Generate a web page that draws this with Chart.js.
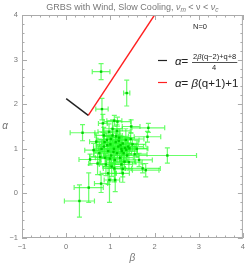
<!DOCTYPE html>
<html>
<head>
<meta charset="utf-8">
<script src="https://cdn.jsdelivr.net/npm/chart.js@4.4.1/dist/chart.umd.min.js"></script>
<style>
  html, body { margin: 0; padding: 0; background: #fff; }
</style>
</head>
<body>
<canvas id="chart" width="249" height="266"></canvas>
<script>
// data
const beta = [0.79, 1.37, 0.81, 1.09, 0.37, 2.29, 0.30, 0.51, 0.98, 1.11, 0.79, 1.28, 1.73, 1.80, 1.09, 1.16,
  1.47, 1.86, 1.84, 0.83, 0.68, 0.62, 0.54, 0.75, 0.71, 1.43, 1.28, 1.32, 0.85, 0.92, 0.95, 1.00,
  1.02, 1.05, 1.08, 1.10, 1.12, 1.15, 1.18, 1.20, 1.22, 1.25, 1.28, 1.30, 1.33, 1.35, 1.38, 1.40,
  1.50, 1.55, 1.60, 0.88, 0.90, 0.97, 1.03, 0.80, 0.85, 1.15, 1.25, 1.42, 0.95, 1.05, 1.65,
  0.93, 1.07, 1.19, 1.26, 0.99, 1.13, 0.87, 1.36, 1.01, 1.23, 0.77, 1.46];
const alpha = [2.73, 2.25, 1.89, 1.63, 1.36, 0.85, -0.17, 0.13, 0.30, 0.30, 0.22, 0.55, 0.56, 0.52, 0.56, 1.61,
  1.50, 1.47, 1.27, 1.57, 1.16, 0.97, 0.76, 0.90, 0.67, 1.01, 0.45, 0.71, 1.05, 1.20, 0.95, 1.10,
  0.85, 1.30, 1.00, 0.75, 1.15, 0.90, 1.05, 1.25, 0.80, 1.00, 1.12, 0.90, 1.02, 1.20, 0.85, 1.05,
  1.10, 0.88, 1.00, 0.80, 0.65, 1.38, 0.60, 1.00, 1.30, 1.40, 0.65, 0.70, 0.45, 1.45, 0.75,
  1.08, 0.93, 1.18, 0.95, 0.78, 1.28, 1.15, 0.98, 1.22, 1.08, 0.82, 1.22];
const betaErr = [0.20, 0.07, 0.14, 0.17, 0.28, 0.66, 0.34, 0.33, 0.12, 0.10, 0.15, 0.20, 0.40, 0.30, 0.25, 0.30,
  0.20, 0.37, 0.30, 0.10, 0.15, 0.20, 0.25, 0.12, 0.20, 0.40, 0.15, 0.25, 0.15, 0.20, 0.30, 0.25,
  0.18, 0.22, 0.35, 0.20, 0.28, 0.15, 0.40, 0.25, 0.30, 0.20, 0.35, 0.18, 0.25, 0.30, 0.22, 0.35,
  0.30, 0.28, 0.25, 0.22, 0.15, 0.25, 0.20, 0.18, 0.20, 0.30, 0.25, 0.30, 0.18, 0.22, 0.30,
  0.25, 0.30, 0.20, 0.35, 0.22, 0.28, 0.18, 0.25, 0.32, 0.20, 0.24, 0.30];
const alphaErr = [0.18, 0.29, 0.24, 0.12, 0.18, 0.17, 0.36, 0.33, 0.50, 0.26, 0.20, 0.18, 0.10, 0.15, 0.30, 0.10,
  0.15, 0.10, 0.12, 0.20, 0.20, 0.15, 0.12, 0.20, 0.25, 0.12, 0.20, 0.15, 0.25, 0.15, 0.20, 0.18,
  0.22, 0.15, 0.12, 0.30, 0.20, 0.25, 0.15, 0.20, 0.12, 0.28, 0.15, 0.20, 0.18, 0.25, 0.15, 0.20,
  0.15, 0.22, 0.18, 0.20, 0.25, 0.18, 0.22, 0.20, 0.18, 0.15, 0.20, 0.18, 0.25, 0.20, 0.15,
  0.20, 0.25, 0.15, 0.18, 0.22, 0.16, 0.20, 0.24, 0.15, 0.20, 0.18, 0.14];

// closure relations (q = 0.5)
const lineBlackBeta = [0, 0.5];
const lineBlackAlpha = [2.125, 1.75];
const lineRedBeta = [0.5, 2];
const lineRedAlpha = [1.75, 4];

const axisMin = -1;
const axisMax = 4;
const minorStep = 0.2;

const FONT = '"Liberation Sans", Arial, sans-serif';
const GREY = '#777';

// error bars, drawn under the markers
const errorBars = {
  id: 'errorBars',
  beforeDatasetsDraw(chart) {
    const { ctx, scales: { x, y } } = chart;
    ctx.save();
    ctx.strokeStyle = 'rgba(40,255,40,0.7)';
    ctx.lineWidth = 1.2;
    const cap = 2.5;
    beta.forEach((b, i) => {
      const a = alpha[i];
      const px = x.getPixelForValue(b), py = y.getPixelForValue(a);
      const x0 = x.getPixelForValue(b - betaErr[i]), x1 = x.getPixelForValue(b + betaErr[i]);
      const y0 = y.getPixelForValue(a - alphaErr[i]), y1 = y.getPixelForValue(a + alphaErr[i]);
      ctx.beginPath();
      ctx.moveTo(x0, py); ctx.lineTo(x1, py);
      ctx.moveTo(x0, py - cap); ctx.lineTo(x0, py + cap);
      ctx.moveTo(x1, py - cap); ctx.lineTo(x1, py + cap);
      ctx.moveTo(px, y0); ctx.lineTo(px, y1);
      ctx.moveTo(px - cap, y0); ctx.lineTo(px + cap, y0);
      ctx.moveTo(px - cap, y1); ctx.lineTo(px + cap, y1);
      ctx.stroke();
    });
    ctx.restore();
  }
};

// frame with inward major/minor ticks, title, axis labels and legend
const decorations = {
  id: 'decorations',
  afterDraw(chart) {
    const { ctx, chartArea: ca, scales: { x, y } } = chart;
    ctx.save();
    ctx.strokeStyle = '#aaa';
    ctx.lineWidth = 1;
    ctx.strokeRect(ca.left + 0.5, ca.top + 0.5, ca.right - ca.left - 1, ca.bottom - ca.top - 1);
    ctx.beginPath();
    for (let k = 0; k <= Math.round((axisMax - axisMin) / minorStep); k++) {
      const v = axisMin + k * minorStep;
      const major = Math.abs(v - Math.round(v)) < 1e-6;
      const len = major ? 5 : 2.5;
      const px = Math.round(x.getPixelForValue(v)) + 0.5;
      const py = Math.round(y.getPixelForValue(v)) + 0.5;
      ctx.moveTo(px, ca.bottom); ctx.lineTo(px, ca.bottom - len);
      ctx.moveTo(px, ca.top); ctx.lineTo(px, ca.top + len);
      ctx.moveTo(ca.left, py); ctx.lineTo(ca.left + len, py);
      ctx.moveTo(ca.right, py); ctx.lineTo(ca.right - len, py);
    }
    ctx.stroke();

    // title
    const parts = [
      ['GRBS with Wind, Slow Cooling, ', '9px ' + FONT, 0],
      ['\u03bd', 'italic 9px ' + FONT, 0],
      ['m', 'italic 6.5px ' + FONT, 2],
      [' < \u03bd < ', '9px ' + FONT, 0],
      ['\u03bd', 'italic 9px ' + FONT, 0],
      ['c', 'italic 6.5px ' + FONT, 2]
    ];
    let total = 0;
    parts.forEach(p => { ctx.font = p[1]; total += ctx.measureText(p[0]).width; });
    let tx = (ca.left + ca.right) / 2 - total / 2;
    ctx.fillStyle = GREY;
    ctx.textBaseline = 'alphabetic';
    ctx.textAlign = 'left';
    parts.forEach(p => {
      ctx.font = p[1];
      ctx.fillText(p[0], tx, 9.5 + p[2]);
      tx += ctx.measureText(p[0]).width;
    });

    // axis labels
    ctx.font = 'italic 10px ' + FONT;
    ctx.textAlign = 'center';
    ctx.textBaseline = 'middle';
    ctx.fillText('\u03b1', 5, (ca.top + ca.bottom) / 2);
    ctx.fillText('\u03b2', (ca.left + ca.right) / 2, 258);

    // legend
    ctx.fillStyle = '#222';
    ctx.font = '7.5px ' + FONT;
    ctx.fillText('N=0', 200, 27);

    ctx.lineWidth = 1.2;
    ctx.strokeStyle = '#222';
    ctx.beginPath(); ctx.moveTo(158, 60.5); ctx.lineTo(167, 60.5); ctx.stroke();
    ctx.strokeStyle = '#ff2020';
    ctx.beginPath(); ctx.moveTo(158, 82.5); ctx.lineTo(167, 82.5); ctx.stroke();

    ctx.textAlign = 'left';
    ctx.textBaseline = 'alphabetic';
    ctx.font = 'italic 11.5px ' + FONT;
    ctx.fillText('\u03b1', 175, 64.5);
    let w = ctx.measureText('\u03b1').width;
    ctx.font = '11.5px ' + FONT;
    ctx.fillText('=', 175 + w, 64.5);
    // fraction
    const num = [['2', '7.5px '], ['\u03b2', 'italic 7.5px '], ['(q\u22122)+q+8', '7.5px ']];
    let nx = 193;
    num.forEach(p => {
      ctx.font = p[1] + FONT;
      ctx.fillText(p[0], nx, 58.5);
      nx += ctx.measureText(p[0]).width;
    });
    ctx.strokeStyle = '#222';
    ctx.lineWidth = 0.8;
    ctx.beginPath(); ctx.moveTo(192, 62.5); ctx.lineTo(nx + 1, 62.5); ctx.stroke();
    ctx.font = '7.5px ' + FONT;
    ctx.textAlign = 'center';
    ctx.fillText('4', (192 + nx) / 2, 69.5);

    ctx.textAlign = 'left';
    const red = [['\u03b1', 'italic 11.5px '], ['= ', '11.5px '], ['\u03b2', 'italic 11.5px '], ['(q+1)+1', '11.5px ']];
    let rx = 175;
    red.forEach(p => {
      ctx.font = p[1] + FONT;
      ctx.fillText(p[0], rx, 86.5);
      rx += ctx.measureText(p[0]).width;
    });
    ctx.restore();
  }
};

const tickLabel = v => String(v).replace('-', '\u2212');

new Chart(document.getElementById('chart'), {
  type: 'scatter',
  data: {
    datasets: [
      {
        label: 'GRBs',
        data: beta.map((b, i) => ({ x: b, y: alpha[i] })),
        pointStyle: 'rect',
        pointRadius: 1.7,
        borderWidth: 0,
        backgroundColor: '#00d000',
        order: 3
      },
      {
        label: 'black',
        data: lineBlackBeta.map((b, i) => ({ x: b, y: lineBlackAlpha[i] })),
        showLine: true,
        borderColor: '#222',
        borderWidth: 1.4,
        pointRadius: 0,
        order: 1
      },
      {
        label: 'red',
        data: lineRedBeta.map((b, i) => ({ x: b, y: lineRedAlpha[i] })),
        showLine: true,
        borderColor: '#ff2020',
        borderWidth: 1.4,
        pointRadius: 0,
        order: 2
      }
    ]
  },
  options: {
    responsive: false,
    animation: false,
    devicePixelRatio: 1,
    layout: { padding: { top: 15, right: 4, left: 0, bottom: 0 } },
    plugins: {
      legend: { display: false },
      title: { display: false },
      tooltip: { enabled: false }
    },
    scales: {
      x: {
        type: 'linear',
        min: axisMin,
        max: axisMax,
        grid: { display: false, drawTicks: false },
        border: { display: false },
        ticks: { stepSize: 1, color: GREY, padding: 4, font: { size: 7.5, family: FONT }, callback: tickLabel },
        afterFit(s) { s.height = 28; }
      },
      y: {
        type: 'linear',
        min: axisMin,
        max: axisMax,
        grid: { display: false, drawTicks: false },
        border: { display: false },
        ticks: { stepSize: 1, color: GREY, padding: 4, font: { size: 7.5, family: FONT }, callback: tickLabel },
        afterFit(s) { s.width = 22; }
      }
    }
  },
  plugins: [errorBars, decorations]
});
</script>
</body>
</html>
